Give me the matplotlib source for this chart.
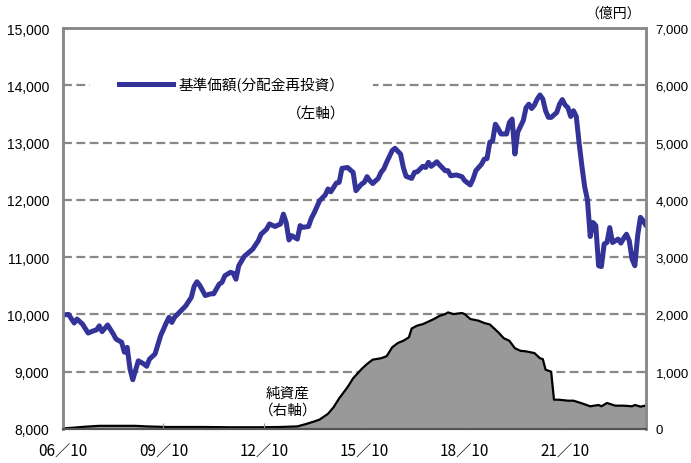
import matplotlib
matplotlib.use("Agg")
import matplotlib.pyplot as plt
from matplotlib.lines import Line2D

plt.rcParams['font.family'] = ['Noto Sans CJK JP', 'DejaVu Sans']

# months counted from 2006/10
nav_month = [0, 2, 4, 5, 7, 9, 11, 12, 13, 14, 16, 18, 19, 21, 22, 23, 24, 25, 27, 29,
             30, 31, 33, 35, 37, 38, 39, 40, 42, 44, 46, 47, 48, 49, 51, 53, 54, 56, 57, 58,
             60, 61, 62, 63, 65, 66, 68, 70, 71, 73, 74, 76, 78, 79, 80, 81, 82, 84, 85, 86,
             88, 89, 90, 92, 94, 95, 96, 98, 99, 100, 102, 104, 105, 107, 108, 109, 110, 111, 113, 114,
             115, 116, 118, 119, 121, 122, 123, 125, 126, 127, 129, 130, 131, 132, 134, 135, 137, 138, 139, 141,
             143, 144, 146, 147, 148, 150, 151, 152, 153, 154, 155, 156, 157, 159, 160, 161, 162, 163, 165, 166,
             167, 168, 169, 170, 171, 172, 173, 174, 175, 177, 178, 179, 180, 181, 182, 183, 184, 185, 186, 187,
             188, 189, 190, 191, 192, 193, 194, 195, 196, 197, 198, 199, 200, 201, 202, 203, 204, 205, 206, 207,
             208, 209]
nav = [9990, 10000, 9850, 9920, 9830, 9675, 9715, 9730, 9800, 9700, 9815, 9660, 9570, 9515, 9340, 9425, 9050, 8860, 9190, 9135,
       9095, 9220, 9310, 9630, 9850, 9950, 9860, 9950, 10050, 10150, 10300, 10490, 10570, 10510, 10330, 10360, 10360, 10530, 10560, 10675,
       10735, 10720, 10615, 10850, 11015, 11055, 11140, 11285, 11400, 11490, 11580, 11535, 11580, 11750, 11605, 11300, 11375, 11315, 11550, 11520,
       11535, 11675, 11770, 11985, 12085, 12190, 12140, 12295, 12305, 12550, 12565, 12480, 12160, 12275, 12305, 12405, 12335, 12285, 12375, 12480,
       12540, 12655, 12860, 12900, 12800, 12565, 12410, 12375, 12480, 12490, 12585, 12565, 12655, 12585, 12665, 12610, 12510, 12510, 12420, 12435,
       12405, 12335, 12260, 12365, 12510, 12620, 12710, 12720, 13005, 13030, 13320, 13245, 13150, 13150, 13350, 13410, 12800, 13180, 13385, 13610,
       13670, 13595, 13655, 13760, 13830, 13760, 13555, 13440, 13440, 13525, 13670, 13750, 13655, 13610, 13455, 13555, 13455, 13000, 12595, 12230,
       12000, 11360, 11605, 11550, 10850, 10835, 11230, 11255, 11515, 11255, 11285, 11315, 11245, 11330, 11400, 11285, 10965, 10850, 11375, 11695,
       11635, 11550]

asset_month = [0, 3, 8, 13, 20, 26, 30, 37, 50, 60, 70, 78, 84, 87, 90, 92, 95, 97, 99, 102,
               104, 107, 109, 111, 114, 116, 118, 120, 122, 124, 125, 127, 129, 131, 133, 135, 137, 138, 140, 143,
               144, 146, 149, 151, 153, 156, 158, 160, 162, 164, 166, 169, 171, 172, 173, 175, 176, 178, 181, 183,
               186, 189, 192, 193, 195, 198, 201, 204, 205, 207, 209]
assets = [10, 20, 40, 55, 55, 55, 45, 35, 35, 30, 30, 35, 45, 85, 130, 165, 265, 380, 535, 730,
          885, 1045, 1135, 1210, 1235, 1270, 1425, 1500, 1540, 1600, 1755, 1805, 1830, 1875, 1920, 1975, 2005, 2035, 2005, 2025,
          2005, 1920, 1890, 1850, 1825, 1690, 1585, 1540, 1410, 1365, 1355, 1325, 1235, 1220, 1035, 1000, 512, 510, 494, 494,
          448, 396, 419, 396, 454, 407, 407, 396, 419, 390, 410]

xtick_month = [0, 36, 72, 108, 144, 180]
xtick_labels = ['06／10', '09／10', '12／10', '15／10', '18／10', '21／10']
left_ticks = [8000, 9000, 10000, 11000, 12000, 13000, 14000, 15000]
right_ticks = [0, 1000, 2000, 3000, 4000, 5000, 6000, 7000]

fig = plt.figure(figsize=(6.91, 4.64), dpi=100)
ax = fig.add_axes([0.0912, 0.0733, 0.8437, 0.8642])
axr = ax.twinx()

# net assets (right axis) with the grid, drawn underneath
axr.fill_between(asset_month, assets, 0, color='#999999', lw=0)
axr.plot(asset_month, assets, color='black', lw=1.6)
axr.set_ylim(0, 7000)
axr.set_yticks(right_ticks)
axr.set_yticklabels([f'{v:,}' for v in right_ticks], family='Liberation Sans', fontsize=9.5)
for v in right_ticks[1:-1]:
    axr.axhline(v, color='#888888', lw=1.6, dashes=(4, 2), zorder=0)

# NAV line on top
ax.set_zorder(axr.get_zorder() + 1)
ax.patch.set_visible(False)
ax.plot(nav_month, nav, color='#333399', lw=3.6, solid_joinstyle='round', solid_capstyle='round')
ax.set_ylim(8000, 15000)
ax.set_xlim(0, 209)
ax.set_yticks(left_ticks)
ax.set_yticklabels([f'{v:,}' for v in left_ticks], family='Liberation Sans', fontsize=10)
ax.set_xticks(xtick_month)
ax.set_xticklabels(xtick_labels, fontsize=11)

ax.tick_params(axis='y', length=0, pad=10)
axr.tick_params(axis='y', length=0, pad=7)
ax.tick_params(axis='x', direction='in', length=4, color='#999999', pad=10)

for a in (ax, axr):
    for side in ('left', 'right', 'top'):
        a.spines[side].set_color('#888888')
        a.spines[side].set_linewidth(1.8)
    a.spines['bottom'].set_color('#555555')
    a.spines['bottom'].set_linewidth(1.5)

handle = Line2D([], [], color='#333399', lw=3.6)
leg = ax.legend([handle], ['基準価額(分配金再投資）'], loc='upper left',
                bbox_to_anchor=(0.046, 0.95), fontsize=10.5, handlelength=3.7,
                handletextpad=0.35, borderpad=2.0, borderaxespad=0,
                frameon=True, fancybox=False, facecolor='white', edgecolor='none',
                framealpha=1)
ax.text(0.484, 0.786, '（左軸）', transform=ax.transAxes, ha='right', va='center',
        fontsize=10.5, zorder=6)
ax.text(0.386, 0.07, '純資産\n（右軸）', transform=ax.transAxes, ha='center', va='center',
        fontsize=10.5, linespacing=1.3)
fig.text(0.887, 0.97, '（億円）', ha='center', va='center', fontsize=10)

fig.savefig('out.png', dpi=100)
